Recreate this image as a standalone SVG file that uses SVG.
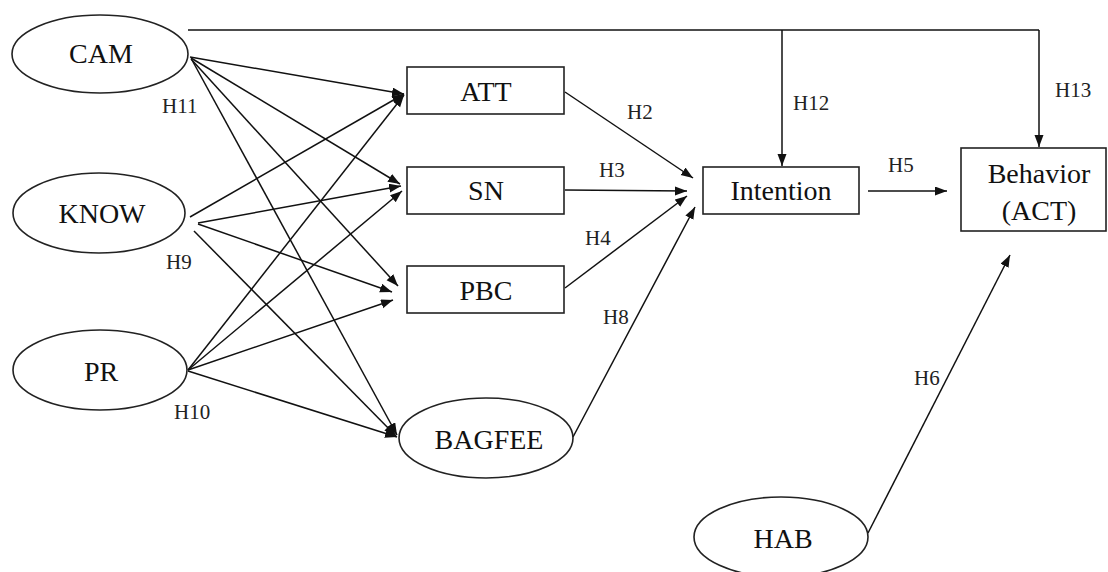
<svg xmlns="http://www.w3.org/2000/svg" width="1108" height="572" viewBox="0 0 1108 572">
<defs>
<marker id="ah" markerUnits="userSpaceOnUse" markerWidth="13" markerHeight="10" refX="12" refY="4.5" orient="auto">
<path d="M0,0 L12,4.5 L0,9 z" fill="#111"/>
</marker>
</defs>
<style>
.n{fill:#fff;stroke:#222;stroke-width:1.6}
.t{font-family:"Liberation Serif","Times New Roman",serif;font-size:28px;fill:#111;text-anchor:middle}
.h{font-family:"Liberation Serif","Times New Roman",serif;font-size:21px;fill:#222}
.c{fill:none;stroke:#111;stroke-width:1.5}
.a{fill:none;stroke:#111;stroke-width:1.5;marker-end:url(#ah)}
</style>
<rect width="1108" height="572" fill="#fff"/>
<g id="connectors">
<path class="c" d="M188,30 H1039"/>
<path class="a" d="M1039,30 V147"/>
<path class="a" d="M782,30 V166"/>
<line class="a" x1="190" y1="57" x2="404" y2="94"/>
<line class="a" x1="191" y1="58" x2="400" y2="184"/>
<line class="a" x1="191" y1="59" x2="398" y2="286"/>
<line class="a" x1="192" y1="60" x2="397" y2="435"/>
<line class="a" x1="190" y1="217" x2="404" y2="94"/>
<line class="a" x1="198" y1="223" x2="401" y2="186"/>
<line class="a" x1="198" y1="224" x2="392" y2="292"/>
<line class="a" x1="194" y1="231" x2="396" y2="436"/>
<line class="a" x1="188" y1="370" x2="404" y2="95"/>
<line class="a" x1="188" y1="370" x2="402" y2="191"/>
<line class="a" x1="188" y1="370" x2="393" y2="300"/>
<line class="a" x1="188" y1="371" x2="397" y2="437"/>
<line class="a" x1="565" y1="92" x2="693" y2="178"/>
<line class="a" x1="565" y1="190" x2="687" y2="191"/>
<line class="a" x1="565" y1="288" x2="687" y2="196"/>
<line class="a" x1="573" y1="437" x2="695" y2="207"/>
<line class="a" x1="868" y1="191" x2="947" y2="191"/>
<line class="a" x1="868" y1="533" x2="1010" y2="255"/>
<text class="h" x="162" y="113">H11</text>
<text class="h" x="166" y="269">H9</text>
<text class="h" x="174" y="419">H10</text>
<text class="h" x="627" y="119">H2</text>
<text class="h" x="599" y="177">H3</text>
<text class="h" x="585" y="245">H4</text>
<text class="h" x="603" y="324">H8</text>
<text class="h" x="793" y="110">H12</text>
<text class="h" x="1055" y="97">H13</text>
<text class="h" x="888" y="172">H5</text>
<text class="h" x="914" y="385">H6</text>
</g>
<g id="CAM"><ellipse class="n" cx="100" cy="54" rx="88" ry="39"/><text class="t" x="101" y="63">CAM</text></g>
<g id="KNOW"><ellipse class="n" cx="99" cy="213" rx="86" ry="40"/><text class="t" x="102" y="223">KNOW</text></g>
<g id="PR"><ellipse class="n" cx="100" cy="370" rx="87" ry="40"/><text class="t" x="101" y="381">PR</text></g>
<g id="ATT"><rect class="n" x="407" y="67" width="157" height="47"/><text class="t" x="486" y="101">ATT</text></g>
<g id="SN"><rect class="n" x="407" y="167" width="157" height="47"/><text class="t" x="486" y="200">SN</text></g>
<g id="PBC"><rect class="n" x="407" y="266" width="157" height="47"/><text class="t" x="486" y="300">PBC</text></g>
<g id="BAGFEE"><ellipse class="n" cx="486" cy="438" rx="87" ry="40"/><text class="t" x="489" y="449">BAGFEE</text></g>
<g id="Intention"><rect class="n" x="703" y="167" width="156" height="47"/><text class="t" x="781" y="200">Intention</text></g>
<g id="Behavior"><rect class="n" x="961" y="148" width="145" height="83"/><text class="t" x="1039" y="183">Behavior</text><text class="t" x="1039" y="220">(ACT)</text></g>
<g id="HAB"><ellipse class="n" cx="781" cy="537" rx="87" ry="40"/><text class="t" x="783" y="548">HAB</text></g>
</svg>
